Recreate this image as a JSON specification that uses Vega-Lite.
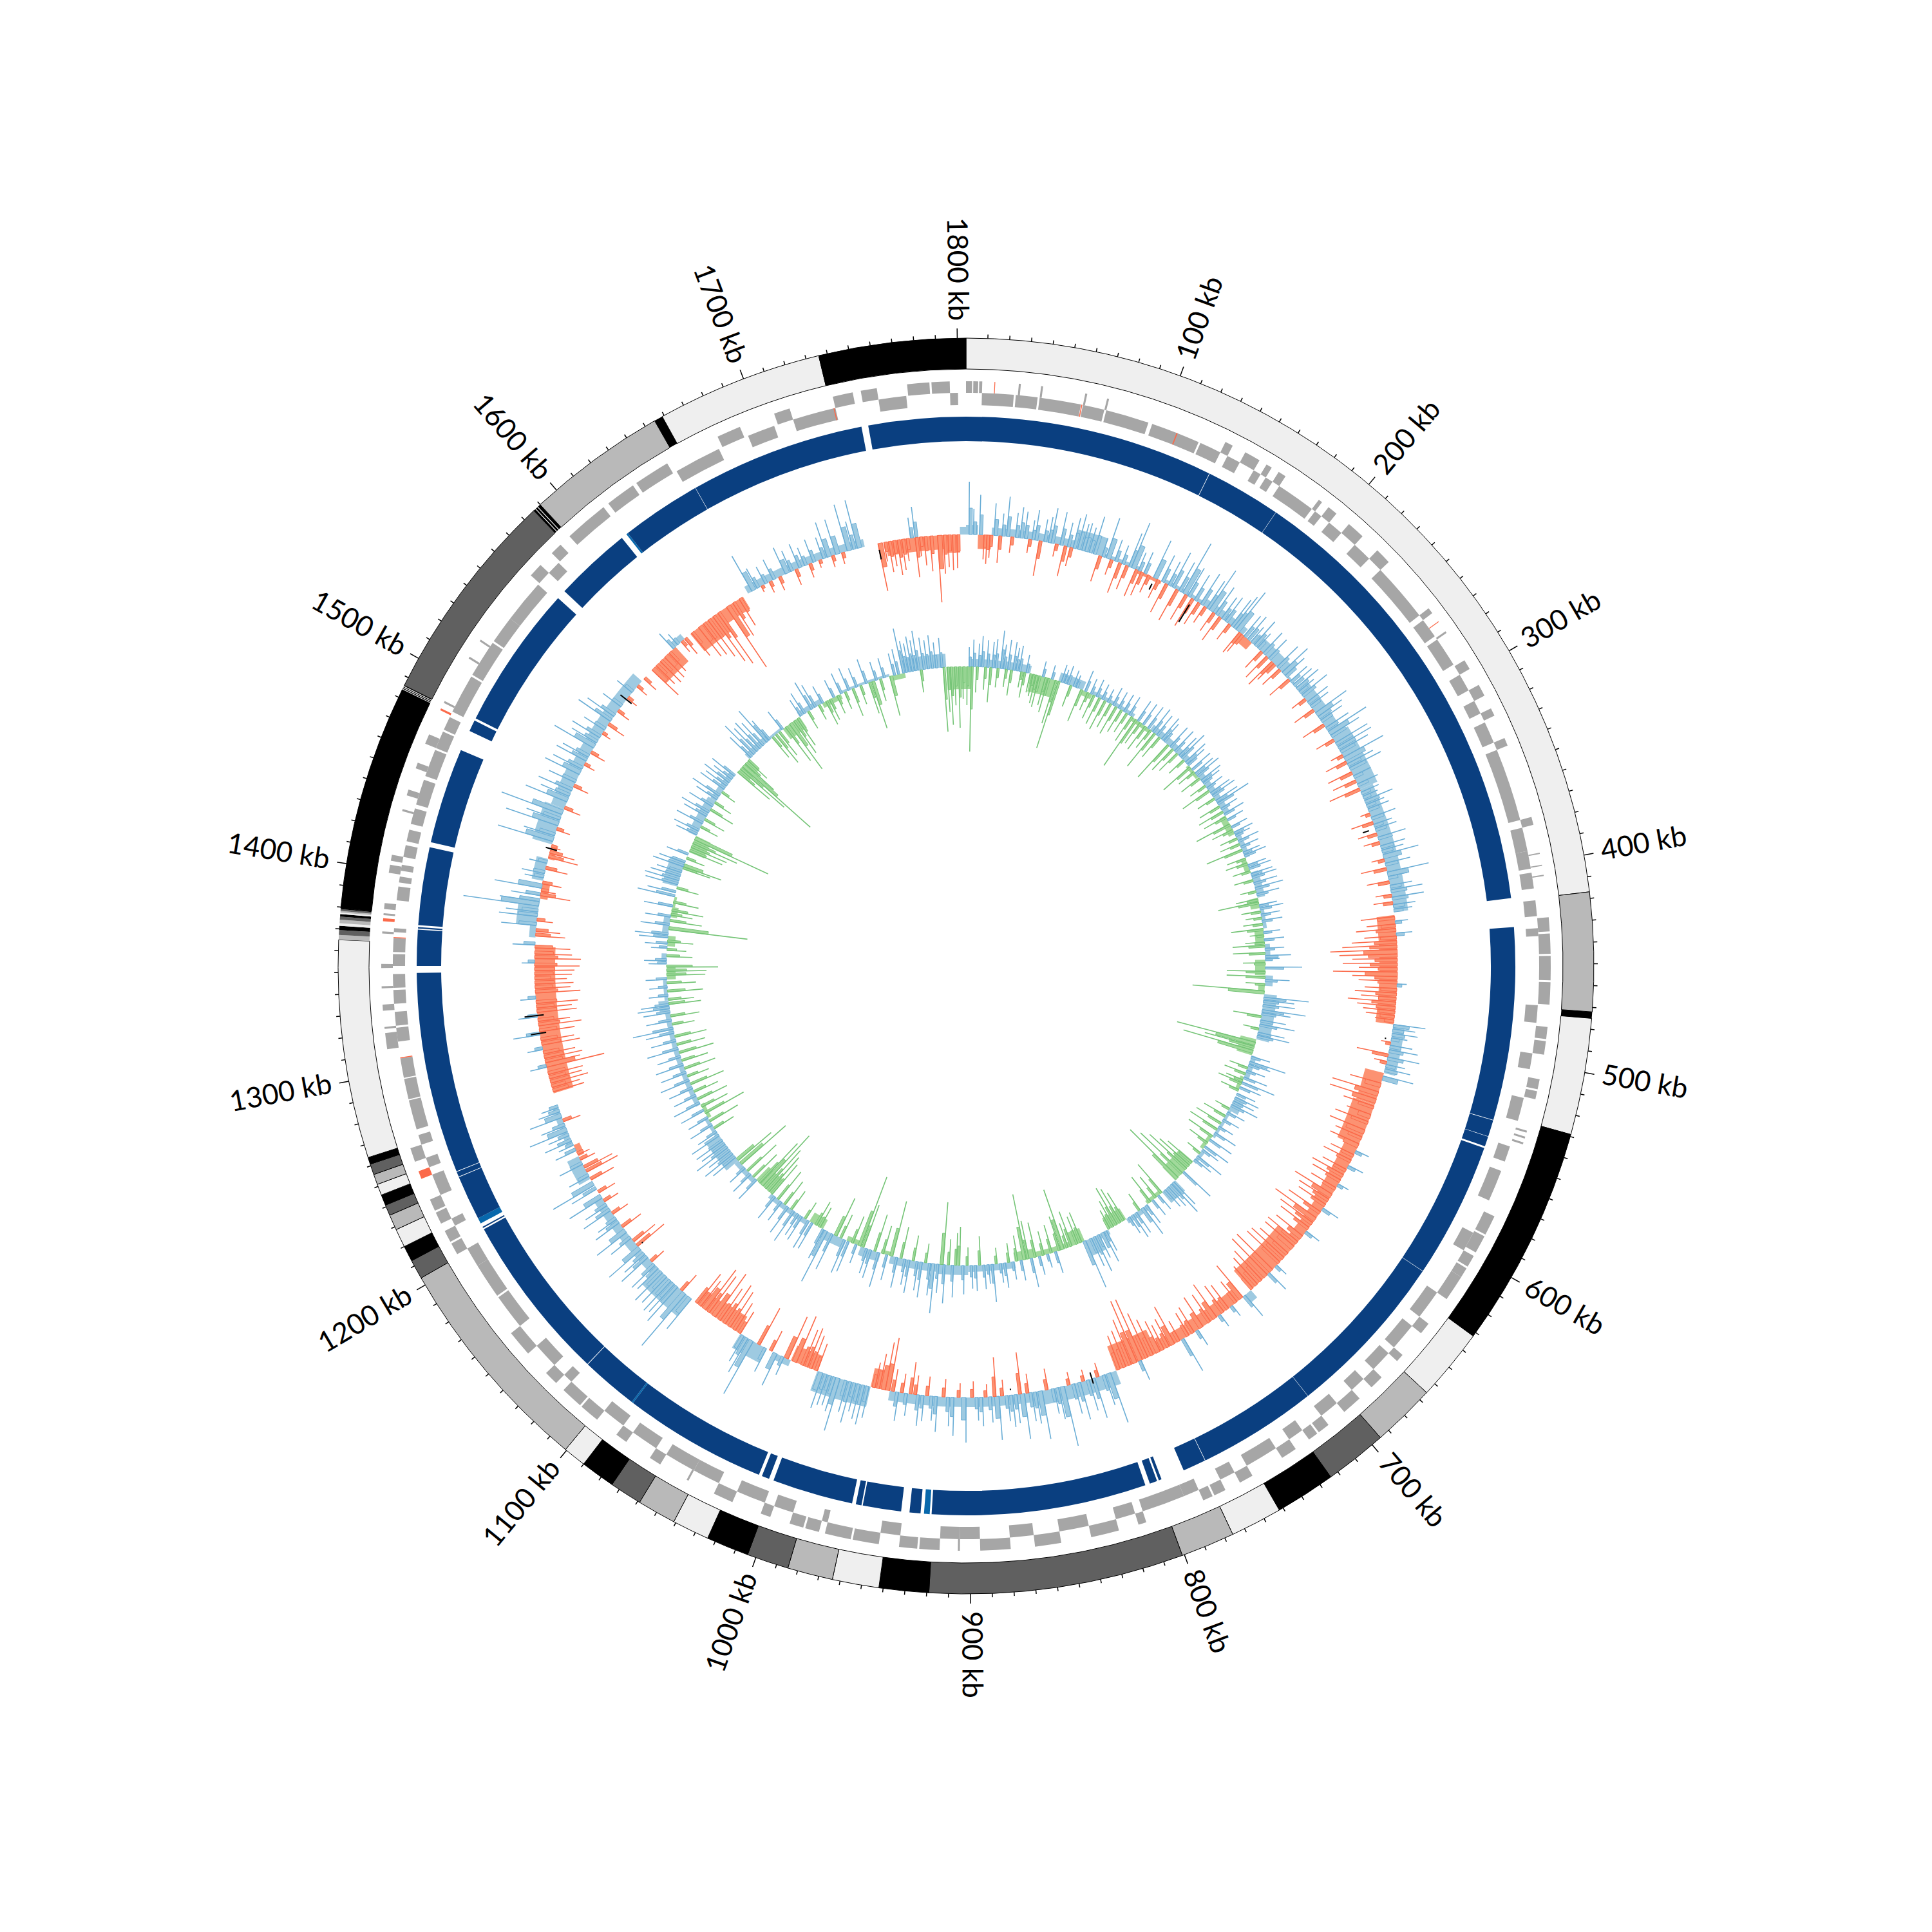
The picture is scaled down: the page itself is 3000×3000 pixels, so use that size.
{"$schema":"https://vega.github.io/schema/vega-lite/v6.json","width":3000,"height":3000,"padding":0,"autosize":{"type":"none"},"background":"white","config":{"view":{"stroke":null}},
"datasets":{
"outer":[{"s":0,"e":417,"c":"l"},{"s":417,"e":472,"c":"m"},{"s":475,"e":529,"c":"l"},{"s":529,"e":632,"c":"k"},{"s":632,"e":665.5,"c":"l"},{"s":665.5,"e":695,"c":"m"},{"s":695,"e":724,"c":"d"},{"s":724,"e":752,"c":"k"},{"s":752,"e":776,"c":"l"},{"s":776,"e":801,"c":"m"},{"s":801,"e":919,"c":"d"},{"s":919,"e":942,"c":"k"},{"s":942,"e":963.6,"c":"l"},{"s":963.6,"e":984.6,"c":"m"},{"s":984.6,"e":1004,"c":"d"},{"s":1004,"e":1023.8,"c":"k"},{"s":1023.8,"e":1041,"c":"l"},{"s":1041,"e":1059,"c":"m"},{"s":1059,"e":1074,"c":"d"},{"s":1074,"e":1090,"c":"k"},{"s":1090,"e":1100.6,"c":"l"},{"s":1100.6,"e":1203.7,"c":"m"},{"s":1203.7,"e":1212.7,"c":"d"},{"s":1212.7,"e":1220,"c":"k"},{"s":1220,"e":1228.6,"c":"l"},{"s":1228.6,"e":1235.8,"c":"m"},{"s":1235.8,"e":1240.8,"c":"d"},{"s":1240.8,"e":1245.8,"c":"k"},{"s":1245.8,"e":1251,"c":"l"},{"s":1251,"e":1255.8,"c":"m"},{"s":1255.8,"e":1260.8,"c":"d"},{"s":1260.8,"e":1264,"c":"k"},{"s":1264,"e":1365,"c":"l"},{"s":1379.5,"e":1484,"c":"k"},{"s":1486,"e":1586,"c":"d"},{"s":1590,"e":1655,"c":"m"},{"s":1659,"e":1736,"c":"l"},{"s":1736,"e":1804,"c":"k"}],
"stripes":[{"s":472,"e":475,"c":"k"},{"s":1365,"e":1367.2,"c":"m"},{"s":1367.2,"e":1369.4,"c":"d"},{"s":1369.4,"e":1371.4,"c":"k"},{"s":1371.4,"e":1372.6,"c":"l"},{"s":1372.6,"e":1374.2,"c":"m"},{"s":1374.2,"e":1375.6,"c":"d"},{"s":1375.6,"e":1376.8,"c":"k"},{"s":1376.8,"e":1377.5,"c":"l"},{"s":1377.5,"e":1378.2,"c":"m"},{"s":1378.2,"e":1379,"c":"d"},{"s":1379,"e":1379.5,"c":"k"},{"s":1484,"e":1484.3,"c":"l"},{"s":1484.3,"e":1484.7,"c":"k"},{"s":1484.7,"e":1485,"c":"l"},{"s":1485,"e":1485.4,"c":"k"},{"s":1485.4,"e":1485.7,"c":"l"},{"s":1485.7,"e":1486,"c":"k"},{"s":1586,"e":1587,"c":"k"},{"s":1587,"e":1587.3,"c":"l"},{"s":1587.3,"e":1588.3,"c":"k"},{"s":1588.3,"e":1588.6,"c":"l"},{"s":1588.6,"e":1590,"c":"k"},{"s":1655,"e":1659,"c":"k"}],
"blue":[{"s":0,"e":131.7,"c":"b"},{"s":132,"e":172,"c":"b"},{"s":172.2,"e":415.4,"c":"b"},{"s":430.6,"e":532.5,"c":"b"},{"s":532.8,"e":541.5,"c":"b"},{"s":541.7,"e":547,"c":"b"},{"s":548,"e":620,"c":"b"},{"s":620.2,"e":709,"c":"b"},{"s":709.2,"e":772.5,"c":"b"},{"s":772.8,"e":785,"c":"b"},{"s":797.5,"e":799,"c":"b"},{"s":800,"e":804,"c":"b"},{"s":806.5,"e":920,"c":"b"},{"s":921,"e":924,"c":"n"},{"s":925.8,"e":931.6,"c":"b"},{"s":936,"e":956.3,"c":"b"},{"s":957,"e":960,"c":"b"},{"s":962,"e":1004.8,"c":"b"},{"s":1007.3,"e":1011.3,"c":"b"},{"s":1013,"e":1089,"c":"b"},{"s":1089,"e":1089.8,"c":"n"},{"s":1089.8,"e":1120,"c":"b"},{"s":1120.3,"e":1209.5,"c":"b"},{"s":1210.3,"e":1211,"c":"b"},{"s":1213,"e":1216,"c":"n"},{"s":1216,"e":1239.7,"c":"b"},{"s":1240,"e":1242.7,"c":"b"},{"s":1243,"e":1349.4,"c":"b"},{"s":1353,"e":1372,"c":"b"},{"s":1372.6,"e":1373.4,"c":"b"},{"s":1374.4,"e":1415.6,"c":"b"},{"s":1418.3,"e":1469,"c":"b"},{"s":1480,"e":1486,"c":"b"},{"s":1487.3,"e":1563.7,"c":"b"},{"s":1568.6,"e":1609.6,"c":"b"},{"s":1612.6,"e":1613.6,"c":"n"},{"s":1613.6,"e":1656,"c":"b"},{"s":1656.2,"e":1749,"c":"b"},{"s":1752.6,"e":1804,"c":"b"}],
"geneO":[{"s":0,"e":3,"c":"g"},{"s":3.6,"e":6,"c":"g"},{"s":6.5,"e":8,"c":"g"},{"s":14,"e":14.4,"c":"r"},{"s":26,"e":27,"c":"g"},{"s":37,"e":38,"c":"g"},{"s":59,"e":60,"c":"g"},{"s":70,"e":71,"c":"g"},{"s":132,"e":136,"c":"g"},{"s":143,"e":151,"c":"g"},{"s":155,"e":158,"c":"g"},{"s":162,"e":166,"c":"g"},{"s":186,"e":188,"c":"g"},{"s":192,"e":197,"c":"g"},{"s":205,"e":214,"c":"g"},{"s":224,"e":232,"c":"g"},{"s":262,"e":265,"c":"g"},{"s":270,"e":270.4,"c":"r"},{"s":276,"e":277,"c":"g"},{"s":293,"e":298,"c":"g"},{"s":307,"e":313,"c":"g"},{"s":320,"e":324,"c":"g"},{"s":336,"e":340,"c":"g"},{"s":377,"e":381,"c":"g"},{"s":395,"e":395.6,"c":"g"},{"s":401,"e":401.6,"c":"g"},{"s":406,"e":406.6,"c":"g"},{"s":427,"e":434,"c":"g"},{"s":435,"e":445,"c":"g"},{"s":446,"e":458,"c":"g"},{"s":459,"e":470,"c":"g"},{"s":481,"e":487,"c":"g"},{"s":488,"e":494.7,"c":"g"},{"s":507,"e":512,"c":"g"},{"s":513,"e":517,"c":"g"},{"s":533,"e":534,"c":"g"},{"s":536,"e":537,"c":"g"},{"s":539,"e":540,"c":"g"},{"s":578,"e":588,"c":"g"},{"s":589,"e":598,"c":"g"},{"s":600,"e":606,"c":"g"},{"s":607,"e":612,"c":"g"},{"s":612,"e":625,"c":"g"},{"s":640,"e":646,"c":"g"},{"s":660,"e":664,"c":"g"},{"s":675,"e":682,"c":"g"},{"s":690,"e":700,"c":"g"},{"s":710,"e":716,"c":"g"},{"s":717,"e":722,"c":"g"},{"s":730,"e":738,"c":"g"},{"s":755,"e":762,"c":"g"},{"s":770,"e":776,"c":"g"},{"s":777,"e":782,"c":"g"},{"s":812,"e":816,"c":"g"},{"s":826,"e":840,"c":"g"},{"s":855,"e":868,"c":"g"},{"s":880,"e":895,"c":"g"},{"s":905,"e":906,"c":"g"},{"s":915,"e":925,"c":"g"},{"s":926,"e":935,"c":"g"},{"s":945,"e":958,"c":"g"},{"s":959,"e":972,"c":"g"},{"s":975,"e":982,"c":"g"},{"s":983,"e":990,"c":"g"},{"s":1000,"e":1005,"c":"g"},{"s":1020,"e":1030,"c":"g"},{"s":1044,"e":1045,"c":"g"},{"s":1060,"e":1066,"c":"g"},{"s":1080,"e":1086,"c":"g"},{"s":1098,"e":1108,"c":"g"},{"s":1109,"e":1120,"c":"g"},{"s":1125,"e":1132,"c":"g"},{"s":1145,"e":1158,"c":"g"},{"s":1205,"e":1211,"c":"g"},{"s":1212,"e":1218,"c":"g"},{"s":1222,"e":1228,"c":"g"},{"s":1229,"e":1235,"c":"g"},{"s":1246,"e":1250,"c":"r"},{"s":1255,"e":1262,"c":"g"},{"s":1312,"e":1320,"c":"g"},{"s":1322,"e":1323,"c":"g"},{"s":1331,"e":1334,"c":"g"},{"s":1342,"e":1343,"c":"g"},{"s":1352,"e":1354,"c":"g"},{"s":1369,"e":1370,"c":"g"},{"s":1375,"e":1376.5,"c":"r"},{"s":1378,"e":1379,"c":"g"},{"s":1381,"e":1384,"c":"g"},{"s":1399,"e":1403,"c":"g"},{"s":1405,"e":1408,"c":"g"},{"s":1430,"e":1431,"c":"g"},{"s":1438,"e":1441,"c":"g"},{"s":1452,"e":1455,"c":"g"},{"s":1465,"e":1470,"c":"g"},{"s":1483,"e":1484,"c":"r"},{"s":1487,"e":1488,"c":"g"},{"s":1512,"e":1513,"c":"g"},{"s":1522,"e":1523,"c":"g"},{"s":1563,"e":1570,"c":"g"},{"s":1578,"e":1584,"c":"g"},{"s":1590,"e":1612,"c":"g"},{"s":1615,"e":1630,"c":"g"},{"s":1632,"e":1650,"c":"g"},{"s":1678,"e":1690,"c":"g"},{"s":1708,"e":1716,"c":"g"},{"s":1738,"e":1748,"c":"g"},{"s":1752,"e":1760,"c":"g"},{"s":1775,"e":1786,"c":"g"},{"s":1787,"e":1796,"c":"g"}],
"geneI":[{"s":8,"e":24,"c":"g"},{"s":25,"e":36,"c":"g"},{"s":37,"e":58,"c":"g"},{"s":58.2,"e":58.7,"c":"r"},{"s":59,"e":70,"c":"g"},{"s":71,"e":93,"c":"g"},{"s":95,"e":120,"c":"g"},{"s":108,"e":108.6,"c":"r"},{"s":121,"e":132,"c":"g"},{"s":136,"e":143,"c":"g"},{"s":151,"e":155,"c":"g"},{"s":158,"e":162,"c":"g"},{"s":166,"e":186,"c":"g"},{"s":188,"e":192,"c":"g"},{"s":197,"e":205,"c":"g"},{"s":214,"e":224,"c":"g"},{"s":232,"e":262,"c":"g"},{"s":265,"e":275,"c":"g"},{"s":277,"e":292,"c":"g"},{"s":298,"e":307,"c":"g"},{"s":313,"e":320,"c":"g"},{"s":325,"e":336,"c":"g"},{"s":340,"e":377,"c":"g"},{"s":381,"e":393,"c":"g"},{"s":393,"e":402,"c":"g"},{"s":404,"e":412,"c":"g"},{"s":418,"e":426,"c":"g"},{"s":432,"e":436,"c":"g"},{"s":470.7,"e":479.5,"c":"g"},{"s":495,"e":503,"c":"g"},{"s":517.7,"e":529.6,"c":"g"},{"s":543,"e":551,"c":"g"},{"s":556,"e":572,"c":"g"},{"s":590,"e":600,"c":"g"},{"s":625,"e":640,"c":"g"},{"s":646,"e":660,"c":"g"},{"s":664,"e":675,"c":"g"},{"s":682,"e":690,"c":"g"},{"s":700,"e":710,"c":"g"},{"s":722,"e":730,"c":"g"},{"s":738,"e":755,"c":"g"},{"s":762,"e":770,"c":"g"},{"s":782,"e":790,"c":"g"},{"s":790,"e":812,"c":"g"},{"s":816,"e":826,"c":"g"},{"s":840,"e":855,"c":"g"},{"s":868,"e":880,"c":"g"},{"s":895,"e":905,"c":"g"},{"s":905,"e":915,"c":"g"},{"s":935,"e":945,"c":"g"},{"s":972,"e":975,"c":"g"},{"s":990,"e":1000,"c":"g"},{"s":1005,"e":1020,"c":"g"},{"s":1030,"e":1044,"c":"g"},{"s":1044,"e":1060,"c":"g"},{"s":1066,"e":1080,"c":"g"},{"s":1086,"e":1098,"c":"g"},{"s":1120,"e":1125,"c":"g"},{"s":1132,"e":1145,"c":"g"},{"s":1158,"e":1176,"c":"g"},{"s":1177,"e":1195,"c":"g"},{"s":1195,"e":1205,"c":"g"},{"s":1218,"e":1222,"c":"g"},{"s":1235,"e":1246,"c":"g"},{"s":1250,"e":1255,"c":"g"},{"s":1262,"e":1267,"c":"g"},{"s":1270,"e":1285,"c":"g"},{"s":1285.6,"e":1296,"c":"g"},{"s":1296.6,"e":1306.5,"c":"g"},{"s":1306.5,"e":1307,"c":"r"},{"s":1315,"e":1322,"c":"g"},{"s":1323,"e":1330,"c":"g"},{"s":1334,"e":1341,"c":"g"},{"s":1342,"e":1349,"c":"g"},{"s":1353,"e":1359,"c":"g"},{"s":1360,"e":1367,"c":"g"},{"s":1367,"e":1367.5,"c":"r"},{"s":1370,"e":1372,"c":"g"},{"s":1386,"e":1393,"c":"g"},{"s":1395,"e":1398,"c":"g"},{"s":1401,"e":1404,"c":"g"},{"s":1408,"e":1414,"c":"g"},{"s":1416,"e":1422,"c":"g"},{"s":1425,"e":1433,"c":"g"},{"s":1435,"e":1448,"c":"g"},{"s":1450,"e":1464,"c":"g"},{"s":1465,"e":1474,"c":"g"},{"s":1475,"e":1482,"c":"g"},{"s":1485,"e":1505,"c":"g"},{"s":1506,"e":1525,"c":"g"},{"s":1526,"e":1540,"c":"g"},{"s":1540,"e":1562,"c":"g"},{"s":1570,"e":1577,"c":"g"},{"s":1652,"e":1676,"c":"g"},{"s":1692,"e":1706,"c":"g"},{"s":1716,"e":1738,"c":"g"},{"s":1737,"e":1737.5,"c":"r"},{"s":1760,"e":1774,"c":"g"},{"s":1796,"e":1800,"c":"g"}],
"bandA":[{"s":0,"e":8,"v":15},{"s":8,"e":17,"v":-22},{"s":17,"e":72,"v":12},{"s":72,"e":92,"v":30},{"s":92,"e":118,"v":6},{"s":118,"e":135,"v":-5},{"s":135,"e":165,"v":6},{"s":165,"e":200,"v":12},{"s":200,"e":208,"v":-14},{"s":208,"e":240,"v":18},{"s":240,"e":250,"v":4},{"s":250,"e":290,"v":20},{"s":290,"e":330,"v":30},{"s":330,"e":415,"v":22},{"s":417,"e":490,"v":-28},{"s":490,"e":523,"v":18},{"s":523,"e":545,"v":-30},{"s":545,"e":575,"v":-35},{"s":575,"e":620,"v":-22},{"s":620,"e":650,"v":-18},{"s":650,"e":695,"v":-40},{"s":695,"e":702,"v":15},{"s":702,"e":745,"v":-20},{"s":745,"e":770,"v":-18},{"s":770,"e":800,"v":-40},{"s":800,"e":860,"v":22},{"s":860,"e":953,"v":15},{"s":953,"e":966,"v":-30},{"s":966,"e":1003,"v":32},{"s":1003,"e":1022,"v":-25},{"s":1022,"e":1033,"v":10},{"s":1040,"e":1060,"v":25},{"s":1062,"e":1082,"v":-28},{"s":1082,"e":1096,"v":-25},{"s":1100,"e":1130,"v":35},{"s":1130,"e":1190,"v":14},{"s":1205,"e":1222,"v":20},{"s":1222,"e":1230,"v":-10},{"s":1230,"e":1259,"v":10},{"s":1267,"e":1366,"v":-32},{"s":1372,"e":1380,"v":10},{"s":1380,"e":1398,"v":32},{"s":1398,"e":1410,"v":-12},{"s":1410,"e":1425,"v":18},{"s":1425,"e":1435,"v":-10},{"s":1435,"e":1460,"v":32},{"s":1460,"e":1490,"v":22},{"s":1490,"e":1560,"v":18},{"s":1570,"e":1592,"v":-30},{"s":1592,"e":1600,"v":10},{"s":1605,"e":1630,"v":-35},{"s":1630,"e":1648,"v":-22},{"s":1652,"e":1736,"v":12},{"s":1750,"e":1790,"v":-22},{"s":1790,"e":1800,"v":-28},{"s":1800,"e":1804,"v":12}],
"bandB":[{"s":0,"e":5,"v":-35},{"s":5,"e":62,"v":12},{"s":63,"e":88,"v":-28},{"s":90,"e":115,"v":14},{"s":115,"e":125,"v":-8},{"s":125,"e":170,"v":6},{"s":170,"e":190,"v":-6},{"s":190,"e":240,"v":10},{"s":240,"e":255,"v":-5},{"s":255,"e":300,"v":10},{"s":300,"e":320,"v":-10},{"s":320,"e":345,"v":8},{"s":345,"e":360,"v":-8},{"s":360,"e":385,"v":12},{"s":385,"e":395,"v":-14},{"s":395,"e":415,"v":6},{"s":415,"e":430,"v":-14},{"s":430,"e":445,"v":8},{"s":445,"e":460,"v":-16},{"s":460,"e":470,"v":12},{"s":470,"e":478,"v":-10},{"s":478,"e":522,"v":20},{"s":522,"e":538,"v":-25},{"s":538,"e":560,"v":8},{"s":560,"e":575,"v":-6},{"s":580,"e":595,"v":16},{"s":595,"e":625,"v":5},{"s":625,"e":640,"v":-6},{"s":640,"e":655,"v":6},{"s":655,"e":680,"v":-28},{"s":680,"e":697,"v":22},{"s":697,"e":715,"v":-6},{"s":715,"e":740,"v":8},{"s":740,"e":760,"v":-20},{"s":760,"e":770,"v":8},{"s":770,"e":785,"v":26},{"s":785,"e":800,"v":-22},{"s":800,"e":835,"v":-8},{"s":835,"e":855,"v":-14},{"s":855,"e":900,"v":10},{"s":900,"e":930,"v":15},{"s":930,"e":975,"v":12},{"s":975,"e":985,"v":-6},{"s":985,"e":1005,"v":14},{"s":1005,"e":1020,"v":-8},{"s":1020,"e":1045,"v":14},{"s":1045,"e":1060,"v":-16},{"s":1060,"e":1105,"v":8},{"s":1105,"e":1125,"v":-28},{"s":1125,"e":1150,"v":8},{"s":1150,"e":1180,"v":24},{"s":1180,"e":1200,"v":6},{"s":1200,"e":1215,"v":-6},{"s":1215,"e":1310,"v":8},{"s":1310,"e":1320,"v":16},{"s":1320,"e":1340,"v":6},{"s":1340,"e":1353,"v":-14},{"s":1355,"e":1365,"v":8},{"s":1372,"e":1382,"v":-12},{"s":1382,"e":1400,"v":10},{"s":1400,"e":1410,"v":-10},{"s":1410,"e":1420,"v":-4},{"s":1430,"e":1455,"v":24},{"s":1465,"e":1482,"v":-25},{"s":1482,"e":1520,"v":14},{"s":1520,"e":1550,"v":10},{"s":1555,"e":1572,"v":-22},{"s":1572,"e":1600,"v":10},{"s":1600,"e":1615,"v":4},{"s":1615,"e":1635,"v":-20},{"s":1635,"e":1660,"v":8},{"s":1660,"e":1680,"v":-8},{"s":1680,"e":1730,"v":4},{"s":1730,"e":1745,"v":-8},{"s":1745,"e":1785,"v":21},{"s":1785,"e":1804,"v":-35}],
"a":[{"s":2,"e":4,"v":82},{"s":5,"e":7,"v":40},{"s":9,"e":11,"v":62},{"s":12,"e":14,"v":-38},{"s":14,"e":16,"v":-45},{"s":16,"e":18,"v":-35},{"s":18.7,"e":21,"v":50},{"s":22,"e":24,"v":-42},{"s":24,"e":26,"v":35},{"s":27,"e":29,"v":62},{"s":30,"e":32,"v":-25},{"s":33,"e":35,"v":38},{"s":36,"e":38,"v":48},{"s":39,"e":41,"v":42},{"s":42,"e":44,"v":-22},{"s":44,"e":46,"v":30},{"s":46,"e":48,"v":47},{"s":49,"e":51,"v":-55},{"s":52,"e":54,"v":35},{"s":55,"e":57,"v":40},{"s":57,"e":59,"v":55},{"s":60,"e":62,"v":-20},{"s":63,"e":65,"v":52},{"s":66,"e":68,"v":-48},{"s":68,"e":70,"v":38},{"s":70,"e":72,"v":-30},{"s":72,"e":74,"v":48},{"s":75,"e":77,"v":56},{"s":78,"e":80,"v":42},{"s":80,"e":82,"v":45},{"s":83,"e":85,"v":40},{"s":86,"e":88,"v":60},{"s":90,"e":92,"v":-42},{"s":92,"e":94,"v":30},{"s":95,"e":98,"v":65},{"s":98,"e":100,"v":-25},{"s":101,"e":103,"v":35},{"s":104,"e":106,"v":-50},{"s":106,"e":108,"v":30},{"s":109,"e":111,"v":-40},{"s":111,"e":113,"v":55},{"s":113,"e":116,"v":75},{"s":116,"e":118,"v":-45},{"s":118,"e":120,"v":30},{"s":120,"e":122,"v":-40},{"s":122,"e":124,"v":35},{"s":125,"e":127,"v":-30},{"s":129,"e":132,"v":63},{"s":132,"e":134,"v":-32},{"s":135,"e":137,"v":45},{"s":138,"e":140,"v":-50},{"s":140,"e":142,"v":40},{"s":143,"e":145,"v":60},{"s":146,"e":148,"v":-55},{"s":148,"e":150,"v":50},{"s":151,"e":154,"v":88},{"s":153,"e":155,"v":-45},{"s":155,"e":157,"v":50},{"s":158,"e":160,"v":-50},{"s":160,"e":162,"v":45},{"s":163,"e":165,"v":-40},{"s":165,"e":167,"v":55},{"s":168,"e":170,"v":-30},{"s":170,"e":172,"v":50},{"s":172,"e":175,"v":73},{"s":175,"e":177,"v":-35},{"s":177,"e":179,"v":50},{"s":180,"e":182,"v":-45},{"s":182,"e":184,"v":40},{"s":185,"e":187,"v":45},{"s":188,"e":190,"v":-30},{"s":190,"e":192,"v":50},{"s":192,"e":194,"v":60},{"s":194,"e":197,"v":73},{"s":197,"e":199,"v":-40},{"s":199,"e":201,"v":-35},{"s":201,"e":203,"v":40},{"s":204,"e":206,"v":45},{"s":207,"e":209,"v":30},{"s":210,"e":212,"v":48},{"s":213,"e":215,"v":30},{"s":216,"e":218,"v":-35},{"s":218,"e":220,"v":43},{"s":221,"e":223,"v":-45},{"s":223,"e":225,"v":40},{"s":226,"e":228,"v":-50},{"s":228,"e":230,"v":-35},{"s":231,"e":233,"v":45},{"s":233,"e":235,"v":-35},{"s":236,"e":239,"v":54},{"s":239,"e":241,"v":40},{"s":242,"e":244,"v":-38},{"s":244,"e":246,"v":35},{"s":247,"e":249,"v":38},{"s":250,"e":252,"v":45},{"s":253,"e":255,"v":30},{"s":256,"e":258,"v":50},{"s":259,"e":261,"v":-25},{"s":262,"e":264,"v":40},{"s":265,"e":267,"v":35},{"s":268,"e":270,"v":-35},{"s":271,"e":274,"v":59},{"s":274,"e":276,"v":45},{"s":277,"e":279,"v":40},{"s":280,"e":282,"v":-38},{"s":283,"e":285,"v":42},{"s":286,"e":289,"v":70},{"s":289,"e":291,"v":52},{"s":292,"e":294,"v":-30},{"s":295,"e":297,"v":58},{"s":298,"e":300,"v":60},{"s":301,"e":303,"v":50},{"s":304,"e":306,"v":-20},{"s":306,"e":309,"v":70},{"s":309,"e":311,"v":-35},{"s":311,"e":313,"v":45},{"s":314,"e":316,"v":55},{"s":317,"e":319,"v":-40},{"s":320,"e":322,"v":30},{"s":323,"e":325,"v":-38},{"s":326,"e":328,"v":35},{"s":329,"e":331,"v":-50},{"s":332,"e":334,"v":30},{"s":335,"e":337,"v":25},{"s":338,"e":340,"v":47},{"s":341,"e":343,"v":30},{"s":344,"e":346,"v":35},{"s":347,"e":349,"v":-15},{"s":350,"e":352,"v":40},{"s":353,"e":355,"v":-35},{"s":355,"e":357,"v":30},{"s":358,"e":360,"v":35},{"s":361,"e":363,"v":-30},{"s":364,"e":366,"v":45},{"s":367,"e":369,"v":-25},{"s":370,"e":372,"v":40},{"s":373,"e":375,"v":35},{"s":376,"e":379,"v":57},{"s":379,"e":381,"v":-20},{"s":382,"e":384,"v":40},{"s":385,"e":387,"v":-40},{"s":388,"e":391,"v":66},{"s":391,"e":393,"v":30},{"s":394,"e":396,"v":-35},{"s":397,"e":399,"v":35},{"s":400,"e":402,"v":50},{"s":403,"e":405,"v":-25},{"s":405,"e":407,"v":50},{"s":408,"e":410,"v":-30},{"s":410,"e":412,"v":35},{"s":413,"e":415,"v":29},{"s":418,"e":420,"v":-53},{"s":421,"e":423,"v":20},{"s":423,"e":425,"v":-45},{"s":426,"e":428,"v":-62},{"s":429,"e":431,"v":25},{"s":431,"e":433,"v":-50},{"s":434,"e":436,"v":-70},{"s":437,"e":439,"v":-85},{"s":440,"e":443,"v":-104},{"s":443,"e":445,"v":-90},{"s":446,"e":448,"v":-70},{"s":449,"e":451,"v":-85},{"s":452,"e":454,"v":-60},{"s":455,"e":458,"v":-100},{"s":458,"e":460,"v":-70},{"s":461,"e":463,"v":-60},{"s":463,"e":465,"v":15},{"s":466,"e":468,"v":-50},{"s":469,"e":471,"v":-65},{"s":472,"e":474,"v":-55},{"s":475,"e":477,"v":-75},{"s":478,"e":480,"v":-60},{"s":481,"e":483,"v":-50},{"s":484,"e":486,"v":-45},{"s":487,"e":489,"v":-30},{"s":490,"e":492,"v":50},{"s":493,"e":495,"v":35},{"s":496,"e":498,"v":40},{"s":499,"e":501,"v":25},{"s":502,"e":504,"v":-15},{"s":504,"e":506,"v":35},{"s":507,"e":509,"v":45},{"s":510,"e":512,"v":-50},{"s":512,"e":514,"v":50},{"s":515,"e":517,"v":-20},{"s":517,"e":519,"v":30},{"s":520,"e":522,"v":40},{"s":525,"e":528,"v":48},{"s":530,"e":533,"v":-50},{"s":536,"e":539,"v":-75},{"s":541,"e":544,"v":-76},{"s":546,"e":548,"v":-50},{"s":552,"e":555,"v":-40},{"s":557,"e":559,"v":-55},{"s":563,"e":566,"v":-59},{"s":568,"e":570,"v":-45},{"s":573,"e":576,"v":-49},{"s":578,"e":580,"v":22},{"s":581,"e":583,"v":-40},{"s":585,"e":587,"v":-48},{"s":589,"e":591,"v":25},{"s":592,"e":594,"v":-42},{"s":596,"e":598,"v":-55},{"s":600,"e":602,"v":-50},{"s":603,"e":605,"v":18},{"s":606,"e":608,"v":-45},{"s":611,"e":614,"v":-68},{"s":615,"e":617,"v":-55},{"s":619,"e":621,"v":-50},{"s":622,"e":624,"v":28},{"s":625,"e":627,"v":-60},{"s":630,"e":633,"v":-78},{"s":634,"e":636,"v":-62},{"s":638,"e":640,"v":-55},{"s":641,"e":643,"v":25},{"s":645,"e":648,"v":-52},{"s":650,"e":652,"v":-60},{"s":654,"e":657,"v":-59},{"s":660,"e":662,"v":-58},{"s":664,"e":666,"v":-68},{"s":668,"e":670,"v":-70},{"s":671,"e":673,"v":20},{"s":675,"e":678,"v":-78},{"s":678,"e":680,"v":36},{"s":680,"e":683,"v":-78},{"s":685,"e":687,"v":-62},{"s":689,"e":691,"v":-55},{"s":693,"e":695,"v":-45},{"s":700,"e":702,"v":42},{"s":702,"e":705,"v":-63},{"s":707,"e":709,"v":-40},{"s":711,"e":713,"v":20},{"s":714,"e":716,"v":-45},{"s":718,"e":720,"v":-50},{"s":721,"e":723,"v":22},{"s":724,"e":727,"v":-62},{"s":729,"e":731,"v":-50},{"s":735,"e":738,"v":-54},{"s":739,"e":741,"v":28},{"s":742,"e":744,"v":-45},{"s":746,"e":748,"v":-40},{"s":750,"e":752,"v":58},{"s":753,"e":755,"v":-35},{"s":757,"e":760,"v":-65},{"s":761,"e":763,"v":-48},{"s":765,"e":767,"v":-42},{"s":768,"e":771,"v":-52},{"s":773,"e":775,"v":-60},{"s":777,"e":779,"v":-75},{"s":781,"e":784,"v":-102},{"s":782,"e":784,"v":33},{"s":785,"e":788,"v":-103},{"s":789,"e":791,"v":-75},{"s":793,"e":795,"v":-60},{"s":797,"e":799,"v":-55},{"s":804,"e":807,"v":82},{"s":808,"e":810,"v":50},{"s":812,"e":814,"v":-22},{"s":815,"e":817,"v":65},{"s":819,"e":821,"v":50},{"s":822,"e":824,"v":-18},{"s":825,"e":827,"v":60},{"s":829,"e":831,"v":48},{"s":832,"e":834,"v":-20},{"s":836,"e":839,"v":95},{"s":840,"e":842,"v":50},{"s":843,"e":845,"v":40},{"s":847,"e":849,"v":-33},{"s":851,"e":854,"v":76},{"s":855,"e":857,"v":50},{"s":858,"e":860,"v":45},{"s":860,"e":862,"v":-30},{"s":863,"e":866,"v":71},{"s":865,"e":867,"v":-65},{"s":868,"e":870,"v":45},{"s":871,"e":873,"v":50},{"s":874,"e":876,"v":40},{"s":877,"e":879,"v":-25},{"s":880,"e":883,"v":68},{"s":882,"e":884,"v":-61},{"s":885,"e":887,"v":40},{"s":888,"e":890,"v":-20},{"s":891,"e":893,"v":45},{"s":894,"e":896,"v":36},{"s":897,"e":899,"v":-25},{"s":902,"e":905,"v":70},{"s":906,"e":908,"v":-22},{"s":910,"e":912,"v":60},{"s":913,"e":915,"v":45},{"s":916,"e":918,"v":-28},{"s":921,"e":923,"v":55},{"s":924,"e":926,"v":38},{"s":927,"e":929,"v":-30},{"s":930,"e":932,"v":40},{"s":933,"e":935,"v":48},{"s":935,"e":937,"v":-30},{"s":938,"e":940,"v":-50},{"s":941,"e":943,"v":35},{"s":944,"e":946,"v":-30},{"s":947,"e":949,"v":45},{"s":950,"e":952,"v":-35},{"s":953,"e":956,"v":-83},{"s":956,"e":959,"v":-75},{"s":960,"e":962,"v":-55},{"s":963,"e":965,"v":-40},{"s":967,"e":969,"v":50},{"s":970,"e":972,"v":62},{"s":973,"e":975,"v":55},{"s":976,"e":978,"v":45},{"s":979,"e":981,"v":65},{"s":982,"e":984,"v":50},{"s":987,"e":990,"v":84},{"s":990,"e":992,"v":55},{"s":993,"e":995,"v":48},{"s":996,"e":998,"v":50},{"s":999,"e":1002,"v":57},{"s":1003,"e":1005,"v":-45},{"s":1007,"e":1009,"v":-55},{"s":1010,"e":1012,"v":-65},{"s":1013,"e":1015,"v":-60},{"s":1018,"e":1021,"v":-78},{"s":1024,"e":1027,"v":-72},{"s":1027,"e":1029,"v":30},{"s":1032,"e":1035,"v":54},{"s":1036,"e":1038,"v":-35},{"s":1040,"e":1042,"v":40},{"s":1045,"e":1047,"v":-65},{"s":1050,"e":1053,"v":93},{"s":1054,"e":1056,"v":60},{"s":1057,"e":1059,"v":45},{"s":1060,"e":1062,"v":-40},{"s":1064,"e":1066,"v":-50},{"s":1068,"e":1070,"v":-65},{"s":1072,"e":1074,"v":-72},{"s":1076,"e":1078,"v":-60},{"s":1080,"e":1083,"v":-82},{"s":1085,"e":1087,"v":-70},{"s":1088,"e":1091,"v":-78},{"s":1092,"e":1094,"v":-50},{"s":1095,"e":1097,"v":-58},{"s":1100,"e":1103,"v":60},{"s":1105,"e":1108,"v":105},{"s":1108,"e":1110,"v":-33},{"s":1112,"e":1114,"v":70},{"s":1115,"e":1117,"v":58},{"s":1118,"e":1120,"v":62},{"s":1122,"e":1124,"v":55},{"s":1126,"e":1128,"v":60},{"s":1130,"e":1132,"v":45},{"s":1133,"e":1135,"v":50},{"s":1136,"e":1138,"v":-25},{"s":1140,"e":1142,"v":55},{"s":1143,"e":1145,"v":42},{"s":1147,"e":1150,"v":65},{"s":1150,"e":1152,"v":-53},{"s":1154,"e":1156,"v":-42},{"s":1157,"e":1159,"v":40},{"s":1162,"e":1165,"v":58},{"s":1166,"e":1168,"v":-35},{"s":1170,"e":1172,"v":45},{"s":1173,"e":1175,"v":35},{"s":1177,"e":1179,"v":-28},{"s":1180,"e":1182,"v":50},{"s":1184,"e":1186,"v":40},{"s":1187,"e":1189,"v":-25},{"s":1190,"e":1193,"v":60},{"s":1194,"e":1196,"v":-29},{"s":1197,"e":1199,"v":45},{"s":1200,"e":1203,"v":74},{"s":1204,"e":1206,"v":-40},{"s":1207,"e":1209,"v":35},{"s":1210,"e":1212,"v":-54},{"s":1213,"e":1215,"v":-48},{"s":1216,"e":1218,"v":40},{"s":1219,"e":1221,"v":-25},{"s":1223,"e":1225,"v":-20},{"s":1226,"e":1228,"v":35},{"s":1230,"e":1232,"v":25},{"s":1233,"e":1235,"v":45},{"s":1237,"e":1239,"v":35},{"s":1240,"e":1243,"v":63},{"s":1244,"e":1246,"v":40},{"s":1247,"e":1249,"v":-28},{"s":1250,"e":1253,"v":53},{"s":1254,"e":1256,"v":35},{"s":1257,"e":1259,"v":28},{"s":1268,"e":1270,"v":-50},{"s":1271,"e":1273,"v":-45},{"s":1274,"e":1276,"v":-60},{"s":1277,"e":1279,"v":-52},{"s":1280,"e":1282,"v":-55},{"s":1285,"e":1288,"v":-92},{"s":1285,"e":1287,"v":26},{"s":1288,"e":1290,"v":-55},{"s":1291,"e":1293,"v":-60},{"s":1294,"e":1296,"v":-50},{"s":1297,"e":1299,"v":24},{"s":1300,"e":1302,"v":-60},{"s":1303,"e":1305,"v":-52},{"s":1307,"e":1309,"v":42},{"s":1309,"e":1311,"v":-55},{"s":1313,"e":1315,"v":-67},{"s":1316,"e":1318,"v":-50},{"s":1319,"e":1321,"v":30},{"s":1322,"e":1324,"v":-62},{"s":1325,"e":1327,"v":-55},{"s":1328,"e":1330,"v":-65},{"s":1331,"e":1333,"v":24},{"s":1335,"e":1337,"v":-70},{"s":1338,"e":1340,"v":-55},{"s":1341,"e":1343,"v":-60},{"s":1344,"e":1346,"v":-50},{"s":1347,"e":1349,"v":-58},{"s":1350,"e":1352,"v":-62},{"s":1353,"e":1355,"v":-70},{"s":1355,"e":1357,"v":20},{"s":1358,"e":1360,"v":-72},{"s":1361,"e":1363,"v":-58},{"s":1365,"e":1367,"v":-55},{"s":1367,"e":1369,"v":35},{"s":1373,"e":1375,"v":-46},{"s":1376,"e":1378,"v":-38},{"s":1380,"e":1382,"v":55},{"s":1383,"e":1385,"v":-25},{"s":1386,"e":1388,"v":60},{"s":1389,"e":1391,"v":50},{"s":1393,"e":1396,"v":118},{"s":1396,"e":1398,"v":62},{"s":1400,"e":1402,"v":46},{"s":1400,"e":1402,"v":-47},{"s":1403,"e":1405,"v":-23},{"s":1405,"e":1408,"v":74},{"s":1408,"e":1410,"v":-30},{"s":1412,"e":1414,"v":30},{"s":1415,"e":1417,"v":36},{"s":1418,"e":1420,"v":-35},{"s":1422,"e":1424,"v":28},{"s":1426,"e":1428,"v":-47},{"s":1429,"e":1431,"v":-40},{"s":1433,"e":1435,"v":-15},{"s":1437,"e":1440,"v":89},{"s":1441,"e":1443,"v":50},{"s":1445,"e":1447,"v":-22},{"s":1448,"e":1451,"v":85},{"s":1452,"e":1454,"v":55},{"s":1456,"e":1459,"v":100},{"s":1460,"e":1462,"v":-27},{"s":1465,"e":1468,"v":69},{"s":1469,"e":1471,"v":48},{"s":1473,"e":1475,"v":56},{"s":1476,"e":1478,"v":-25},{"s":1479,"e":1481,"v":45},{"s":1485,"e":1488,"v":59},{"s":1489,"e":1491,"v":50},{"s":1492,"e":1494,"v":-18},{"s":1495,"e":1497,"v":52},{"s":1498,"e":1500,"v":45},{"s":1501,"e":1503,"v":-25},{"s":1505,"e":1508,"v":70},{"s":1509,"e":1511,"v":45},{"s":1513,"e":1515,"v":50},{"s":1516,"e":1518,"v":-15},{"s":1519,"e":1521,"v":38},{"s":1523,"e":1525,"v":-30},{"s":1526,"e":1528,"v":60},{"s":1530,"e":1532,"v":50},{"s":1534,"e":1536,"v":-22},{"s":1538,"e":1540,"v":35},{"s":1545,"e":1547,"v":-18},{"s":1550,"e":1552,"v":30},{"s":1555,"e":1557,"v":-20},{"s":1562,"e":1564,"v":-25},{"s":1570,"e":1573,"v":-56},{"s":1574,"e":1576,"v":-40},{"s":1578,"e":1580,"v":-45},{"s":1582,"e":1585,"v":-43},{"s":1586,"e":1588,"v":-38},{"s":1590,"e":1592,"v":32},{"s":1594,"e":1596,"v":22},{"s":1597,"e":1599,"v":-20},{"s":1600,"e":1602,"v":-30},{"s":1606,"e":1608,"v":-45},{"s":1612,"e":1615,"v":-57},{"s":1616,"e":1618,"v":-60},{"s":1620,"e":1622,"v":-70},{"s":1624,"e":1626,"v":-85},{"s":1628,"e":1630,"v":-95},{"s":1635,"e":1638,"v":-112},{"s":1640,"e":1642,"v":-60},{"s":1645,"e":1647,"v":-48},{"s":1655,"e":1658,"v":63},{"s":1659,"e":1661,"v":35},{"s":1662,"e":1664,"v":-10},{"s":1665,"e":1667,"v":30},{"s":1668,"e":1670,"v":-18},{"s":1671,"e":1673,"v":35},{"s":1675,"e":1677,"v":-22},{"s":1680,"e":1683,"v":45},{"s":1684,"e":1686,"v":35},{"s":1687,"e":1689,"v":-25},{"s":1690,"e":1692,"v":40},{"s":1694,"e":1696,"v":30},{"s":1697,"e":1699,"v":-22},{"s":1700,"e":1702,"v":38},{"s":1704,"e":1706,"v":-12},{"s":1707,"e":1709,"v":35},{"s":1710,"e":1713,"v":57},{"s":1713,"e":1715,"v":-18},{"s":1716,"e":1719,"v":57},{"s":1720,"e":1722,"v":-18},{"s":1724,"e":1727,"v":75},{"s":1728,"e":1730,"v":45},{"s":1731,"e":1734,"v":77},{"s":1745,"e":1748,"v":-75},{"s":1749,"e":1751,"v":-30},{"s":1752,"e":1754,"v":-48},{"s":1755,"e":1757,"v":-40},{"s":1758,"e":1760,"v":-55},{"s":1761,"e":1763,"v":-48},{"s":1764,"e":1766,"v":-35},{"s":1767,"e":1769,"v":32},{"s":1770,"e":1772,"v":48},{"s":1770,"e":1772,"v":-62},{"s":1773,"e":1775,"v":-30},{"s":1776,"e":1778,"v":-45},{"s":1780,"e":1782,"v":-55},{"s":1785,"e":1788,"v":-104},{"s":1789,"e":1791,"v":-60},{"s":1792,"e":1794,"v":-50},{"s":1795,"e":1797,"v":-55},{"s":1798,"e":1800,"v":-52}],
"b":[{"s":1,"e":3,"v":-60},{"s":3,"e":5,"v":30},{"s":5,"e":7,"v":-132},{"s":7,"e":9,"v":42},{"s":10,"e":12,"v":-40},{"s":12,"e":14,"v":36},{"s":15,"e":17,"v":48},{"s":18,"e":20,"v":-35},{"s":20,"e":22,"v":42},{"s":23,"e":25,"v":-54},{"s":25,"e":27,"v":40},{"s":28,"e":30,"v":45},{"s":30,"e":32,"v":-30},{"s":33,"e":35,"v":59},{"s":36,"e":38,"v":38},{"s":38,"e":40,"v":-28},{"s":40,"e":42,"v":46},{"s":43,"e":45,"v":-40},{"s":45,"e":47,"v":44},{"s":48,"e":50,"v":36},{"s":51,"e":53,"v":40},{"s":53,"e":55,"v":-25},{"s":56,"e":58,"v":-40},{"s":58,"e":60,"v":28},{"s":62,"e":64,"v":-30},{"s":65,"e":67,"v":-35},{"s":68,"e":70,"v":-45},{"s":71,"e":73,"v":-50},{"s":74,"e":76,"v":24},{"s":77,"e":79,"v":-45},{"s":80,"e":82,"v":-55},{"s":83,"e":85,"v":22},{"s":87,"e":89,"v":-70},{"s":90,"e":92,"v":-109},{"s":93,"e":95,"v":28},{"s":96,"e":98,"v":22},{"s":99,"e":101,"v":30},{"s":102,"e":104,"v":-35},{"s":105,"e":107,"v":26},{"s":108,"e":110,"v":20},{"s":113,"e":115,"v":-53},{"s":117,"e":119,"v":34},{"s":120,"e":122,"v":-30},{"s":123,"e":125,"v":25},{"s":126,"e":128,"v":-40},{"s":129,"e":131,"v":28},{"s":132,"e":134,"v":-45},{"s":135,"e":137,"v":25},{"s":138,"e":140,"v":-50},{"s":141,"e":143,"v":22},{"s":144,"e":146,"v":-42},{"s":147,"e":149,"v":30},{"s":150,"e":152,"v":-48},{"s":153,"e":155,"v":28},{"s":156,"e":158,"v":-40},{"s":159,"e":161,"v":30},{"s":162,"e":164,"v":-35},{"s":165,"e":167,"v":32},{"s":168,"e":170,"v":-45},{"s":173,"e":175,"v":-87},{"s":175,"e":177,"v":36},{"s":178,"e":180,"v":-40},{"s":181,"e":183,"v":38},{"s":184,"e":186,"v":-45},{"s":187,"e":189,"v":40},{"s":190,"e":192,"v":-35},{"s":193,"e":195,"v":44},{"s":195,"e":197,"v":-66},{"s":198,"e":200,"v":38},{"s":201,"e":203,"v":-40},{"s":204,"e":206,"v":42},{"s":207,"e":209,"v":35},{"s":212,"e":214,"v":-68},{"s":215,"e":217,"v":40},{"s":218,"e":220,"v":-45},{"s":221,"e":223,"v":42},{"s":224,"e":226,"v":-38},{"s":227,"e":229,"v":38},{"s":230,"e":232,"v":50},{"s":233,"e":235,"v":-30},{"s":236,"e":238,"v":42},{"s":239,"e":241,"v":35},{"s":242,"e":244,"v":-54},{"s":245,"e":247,"v":38},{"s":248,"e":250,"v":-30},{"s":250,"e":252,"v":36},{"s":253,"e":255,"v":43},{"s":256,"e":258,"v":-35},{"s":259,"e":261,"v":38},{"s":262,"e":264,"v":32},{"s":265,"e":267,"v":-28},{"s":268,"e":270,"v":30},{"s":271,"e":273,"v":-49},{"s":274,"e":276,"v":36},{"s":277,"e":279,"v":42},{"s":280,"e":282,"v":-30},{"s":283,"e":285,"v":40},{"s":286,"e":288,"v":57},{"s":289,"e":291,"v":-35},{"s":292,"e":294,"v":30},{"s":295,"e":297,"v":-42},{"s":298,"e":300,"v":35},{"s":301,"e":303,"v":-38},{"s":304,"e":306,"v":28},{"s":309,"e":311,"v":-58},{"s":312,"e":314,"v":28},{"s":315,"e":317,"v":-35},{"s":318,"e":320,"v":32},{"s":321,"e":323,"v":25},{"s":324,"e":326,"v":-28},{"s":327,"e":329,"v":35},{"s":330,"e":332,"v":-32},{"s":333,"e":335,"v":30},{"s":336,"e":338,"v":-59},{"s":339,"e":341,"v":28},{"s":342,"e":344,"v":36},{"s":345,"e":347,"v":-30},{"s":350,"e":352,"v":-35},{"s":352,"e":354,"v":30},{"s":355,"e":357,"v":36},{"s":358,"e":360,"v":-28},{"s":361,"e":363,"v":35},{"s":364,"e":366,"v":40},{"s":367,"e":369,"v":-30},{"s":370,"e":372,"v":38},{"s":375,"e":377,"v":45},{"s":378,"e":380,"v":-25},{"s":381,"e":383,"v":36},{"s":386,"e":388,"v":-35},{"s":389,"e":391,"v":-64},{"s":392,"e":394,"v":28},{"s":395,"e":397,"v":37},{"s":398,"e":400,"v":-30},{"s":401,"e":403,"v":30},{"s":404,"e":406,"v":-25},{"s":407,"e":409,"v":32},{"s":410,"e":412,"v":-30},{"s":415,"e":417,"v":-50},{"s":418,"e":420,"v":26},{"s":421,"e":423,"v":-22},{"s":425,"e":427,"v":31},{"s":428,"e":430,"v":-30},{"s":431,"e":433,"v":-50},{"s":434,"e":436,"v":30},{"s":438,"e":440,"v":-50},{"s":441,"e":443,"v":40},{"s":444,"e":446,"v":22},{"s":448,"e":450,"v":-35},{"s":452,"e":454,"v":57},{"s":456,"e":458,"v":-60},{"s":461,"e":463,"v":-60},{"s":464,"e":466,"v":38},{"s":468,"e":470,"v":-30},{"s":475,"e":478,"v":-112},{"s":481,"e":483,"v":70},{"s":484,"e":486,"v":48},{"s":488,"e":490,"v":50},{"s":493,"e":495,"v":68},{"s":496,"e":498,"v":45},{"s":499,"e":501,"v":-44},{"s":503,"e":505,"v":40},{"s":507,"e":509,"v":55},{"s":511,"e":513,"v":-25},{"s":515,"e":517,"v":42},{"s":518,"e":520,"v":51},{"s":525,"e":528,"v":-126},{"s":529,"e":531,"v":-80},{"s":533,"e":536,"v":-113},{"s":539,"e":541,"v":30},{"s":544,"e":546,"v":58},{"s":547,"e":549,"v":35},{"s":550,"e":552,"v":-30},{"s":553,"e":555,"v":30},{"s":556,"e":558,"v":-35},{"s":560,"e":562,"v":38},{"s":563,"e":565,"v":-28},{"s":565,"e":567,"v":54},{"s":566,"e":568,"v":-39},{"s":570,"e":572,"v":35},{"s":573,"e":575,"v":-30},{"s":577,"e":579,"v":31},{"s":581,"e":583,"v":40},{"s":585,"e":587,"v":35},{"s":589,"e":591,"v":45},{"s":593,"e":595,"v":-25},{"s":597,"e":599,"v":30},{"s":601,"e":603,"v":-38},{"s":605,"e":607,"v":28},{"s":609,"e":611,"v":-45},{"s":613,"e":615,"v":25},{"s":616,"e":618,"v":-50},{"s":620,"e":622,"v":38},{"s":624,"e":626,"v":-45},{"s":628,"e":630,"v":40},{"s":632,"e":634,"v":-35},{"s":636,"e":638,"v":44},{"s":640,"e":642,"v":30},{"s":644,"e":646,"v":-25},{"s":648,"e":650,"v":47},{"s":652,"e":654,"v":32},{"s":656,"e":658,"v":-50},{"s":660,"e":662,"v":-62},{"s":664,"e":666,"v":-78},{"s":668,"e":670,"v":56},{"s":670,"e":672,"v":-90},{"s":676,"e":679,"v":-105},{"s":682,"e":684,"v":48},{"s":685,"e":687,"v":59},{"s":689,"e":691,"v":40},{"s":693,"e":695,"v":35},{"s":697,"e":699,"v":-57},{"s":701,"e":703,"v":28},{"s":704,"e":706,"v":-40},{"s":708,"e":710,"v":30},{"s":711,"e":713,"v":-48},{"s":716,"e":718,"v":35},{"s":720,"e":723,"v":51},{"s":724,"e":726,"v":-30},{"s":728,"e":730,"v":38},{"s":732,"e":734,"v":42},{"s":736,"e":738,"v":30},{"s":742,"e":744,"v":-50},{"s":746,"e":748,"v":-60},{"s":750,"e":752,"v":-65},{"s":754,"e":756,"v":-45},{"s":758,"e":760,"v":-32},{"s":762,"e":764,"v":35},{"s":765,"e":768,"v":51},{"s":770,"e":772,"v":40},{"s":774,"e":776,"v":60},{"s":778,"e":780,"v":48},{"s":784,"e":787,"v":79},{"s":788,"e":790,"v":-50},{"s":792,"e":794,"v":-45},{"s":798,"e":800,"v":-57},{"s":802,"e":804,"v":-40},{"s":806,"e":809,"v":-97},{"s":810,"e":812,"v":-55},{"s":814,"e":816,"v":35},{"s":818,"e":820,"v":-45},{"s":822,"e":824,"v":22},{"s":826,"e":828,"v":-38},{"s":830,"e":832,"v":30},{"s":834,"e":836,"v":-55},{"s":838,"e":840,"v":46},{"s":841,"e":843,"v":-60},{"s":844,"e":847,"v":-103},{"s":848,"e":850,"v":32},{"s":852,"e":854,"v":-40},{"s":856,"e":858,"v":28},{"s":860,"e":862,"v":-30},{"s":864,"e":866,"v":39},{"s":868,"e":870,"v":30},{"s":872,"e":874,"v":-25},{"s":876,"e":878,"v":59},{"s":880,"e":882,"v":30},{"s":884,"e":886,"v":38},{"s":888,"e":890,"v":-45},{"s":892,"e":894,"v":40},{"s":896,"e":898,"v":36},{"s":900,"e":902,"v":-28},{"s":904,"e":906,"v":45},{"s":908,"e":910,"v":-60},{"s":911,"e":913,"v":-50},{"s":914,"e":916,"v":50},{"s":918,"e":920,"v":-40},{"s":922,"e":924,"v":60},{"s":924,"e":927,"v":-97},{"s":928,"e":930,"v":45},{"s":932,"e":935,"v":77},{"s":936,"e":938,"v":50},{"s":940,"e":942,"v":-30},{"s":944,"e":946,"v":55},{"s":948,"e":950,"v":45},{"s":952,"e":954,"v":-40},{"s":956,"e":958,"v":52},{"s":960,"e":962,"v":40},{"s":964,"e":966,"v":-50},{"s":968,"e":970,"v":48},{"s":973,"e":976,"v":-88},{"s":978,"e":980,"v":40},{"s":982,"e":984,"v":-45},{"s":986,"e":988,"v":55},{"s":990,"e":992,"v":-60},{"s":994,"e":996,"v":45},{"s":998,"e":1000,"v":40},{"s":1002,"e":1004,"v":-70},{"s":1005,"e":1008,"v":-115},{"s":1009,"e":1011,"v":30},{"s":1013,"e":1015,"v":-45},{"s":1017,"e":1019,"v":50},{"s":1021,"e":1023,"v":55},{"s":1025,"e":1027,"v":-40},{"s":1030,"e":1033,"v":-65},{"s":1034,"e":1036,"v":60},{"s":1040,"e":1043,"v":87},{"s":1044,"e":1046,"v":50},{"s":1048,"e":1050,"v":-35},{"s":1052,"e":1054,"v":-42},{"s":1056,"e":1058,"v":45},{"s":1060,"e":1062,"v":48},{"s":1064,"e":1066,"v":-30},{"s":1068,"e":1070,"v":42},{"s":1072,"e":1074,"v":38},{"s":1077,"e":1079,"v":55},{"s":1080,"e":1082,"v":-35},{"s":1084,"e":1086,"v":48},{"s":1088,"e":1090,"v":-45},{"s":1092,"e":1094,"v":35},{"s":1096,"e":1098,"v":-55},{"s":1100,"e":1102,"v":42},{"s":1104,"e":1106,"v":-60},{"s":1108,"e":1110,"v":-70},{"s":1112,"e":1114,"v":-80},{"s":1116,"e":1119,"v":-106},{"s":1120,"e":1122,"v":-85},{"s":1124,"e":1126,"v":40},{"s":1128,"e":1130,"v":-50},{"s":1132,"e":1134,"v":38},{"s":1136,"e":1138,"v":-60},{"s":1140,"e":1142,"v":32},{"s":1145,"e":1148,"v":-91},{"s":1150,"e":1153,"v":-67},{"s":1154,"e":1156,"v":45},{"s":1158,"e":1160,"v":55},{"s":1162,"e":1164,"v":42},{"s":1166,"e":1168,"v":60},{"s":1170,"e":1172,"v":45},{"s":1174,"e":1176,"v":50},{"s":1180,"e":1182,"v":51},{"s":1184,"e":1186,"v":35},{"s":1188,"e":1190,"v":-35},{"s":1192,"e":1194,"v":40},{"s":1196,"e":1198,"v":-50},{"s":1200,"e":1202,"v":35},{"s":1205,"e":1207,"v":-68},{"s":1208,"e":1210,"v":40},{"s":1212,"e":1214,"v":-45},{"s":1216,"e":1218,"v":45},{"s":1220,"e":1222,"v":-50},{"s":1224,"e":1226,"v":38},{"s":1228,"e":1230,"v":-40},{"s":1232,"e":1234,"v":40},{"s":1236,"e":1238,"v":-55},{"s":1240,"e":1242,"v":48},{"s":1244,"e":1246,"v":-35},{"s":1248,"e":1250,"v":42},{"s":1252,"e":1254,"v":-50},{"s":1256,"e":1258,"v":45},{"s":1260,"e":1262,"v":-42},{"s":1264,"e":1266,"v":38},{"s":1268,"e":1270,"v":-55},{"s":1272,"e":1274,"v":50},{"s":1276,"e":1278,"v":-45},{"s":1280,"e":1282,"v":40},{"s":1284,"e":1286,"v":-50},{"s":1288,"e":1290,"v":45},{"s":1292,"e":1294,"v":64},{"s":1296,"e":1298,"v":-35},{"s":1300,"e":1302,"v":40},{"s":1304,"e":1306,"v":-45},{"s":1308,"e":1310,"v":42},{"s":1312,"e":1314,"v":50},{"s":1315,"e":1317,"v":44},{"s":1316,"e":1318,"v":-50},{"s":1320,"e":1322,"v":-40},{"s":1324,"e":1326,"v":30},{"s":1328,"e":1330,"v":-55},{"s":1332,"e":1334,"v":28},{"s":1336,"e":1338,"v":-45},{"s":1340,"e":1342,"v":33},{"s":1344,"e":1346,"v":-60},{"s":1348,"e":1350,"v":-62},{"s":1352,"e":1354,"v":-80},{"s":1355,"e":1357,"v":28},{"s":1358,"e":1360,"v":35},{"s":1362,"e":1364,"v":-40},{"s":1368,"e":1370,"v":-30},{"s":1370,"e":1372,"v":25},{"s":1374,"e":1376,"v":35},{"s":1376,"e":1378,"v":-40},{"s":1380,"e":1382,"v":45},{"s":1383,"e":1385,"v":52},{"s":1388,"e":1391,"v":-123},{"s":1392,"e":1394,"v":45},{"s":1396,"e":1398,"v":-50},{"s":1400,"e":1402,"v":40},{"s":1402,"e":1404,"v":-34},{"s":1406,"e":1408,"v":-50},{"s":1410,"e":1412,"v":45},{"s":1414,"e":1416,"v":-40},{"s":1420,"e":1422,"v":59},{"s":1424,"e":1426,"v":45},{"s":1428,"e":1430,"v":-35},{"s":1432,"e":1434,"v":52},{"s":1436,"e":1438,"v":55},{"s":1440,"e":1442,"v":48},{"s":1444,"e":1446,"v":40},{"s":1448,"e":1450,"v":-45},{"s":1450,"e":1453,"v":-62},{"s":1450,"e":1452,"v":50},{"s":1454,"e":1456,"v":42},{"s":1458,"e":1460,"v":-30},{"s":1462,"e":1464,"v":35},{"s":1466,"e":1468,"v":-55},{"s":1470,"e":1472,"v":-60},{"s":1474,"e":1476,"v":-75},{"s":1478,"e":1481,"v":-126},{"s":1483,"e":1485,"v":35},{"s":1487,"e":1489,"v":42},{"s":1491,"e":1493,"v":-30},{"s":1495,"e":1497,"v":45},{"s":1499,"e":1501,"v":-35},{"s":1503,"e":1505,"v":40},{"s":1507,"e":1509,"v":48},{"s":1510,"e":1512,"v":-41},{"s":1514,"e":1516,"v":42},{"s":1518,"e":1520,"v":-30},{"s":1522,"e":1524,"v":38},{"s":1526,"e":1528,"v":50},{"s":1530,"e":1532,"v":-25},{"s":1534,"e":1536,"v":45},{"s":1538,"e":1540,"v":40},{"s":1542,"e":1544,"v":48},{"s":1546,"e":1548,"v":35},{"s":1550,"e":1552,"v":44},{"s":1555,"e":1557,"v":-65},{"s":1559,"e":1561,"v":-90},{"s":1562,"e":1565,"v":-141},{"s":1566,"e":1568,"v":-60},{"s":1570,"e":1572,"v":-40},{"s":1574,"e":1576,"v":45},{"s":1578,"e":1580,"v":63},{"s":1582,"e":1584,"v":50},{"s":1586,"e":1588,"v":55},{"s":1590,"e":1592,"v":48},{"s":1595,"e":1597,"v":65},{"s":1598,"e":1600,"v":40},{"s":1602,"e":1604,"v":-40},{"s":1606,"e":1608,"v":-55},{"s":1610,"e":1612,"v":-45},{"s":1614,"e":1616,"v":35},{"s":1618,"e":1620,"v":-65},{"s":1623,"e":1626,"v":-86},{"s":1628,"e":1630,"v":-60},{"s":1632,"e":1634,"v":-50},{"s":1636,"e":1638,"v":30},{"s":1640,"e":1642,"v":38},{"s":1644,"e":1646,"v":-30},{"s":1648,"e":1650,"v":49},{"s":1652,"e":1654,"v":40},{"s":1656,"e":1658,"v":-25},{"s":1660,"e":1662,"v":30},{"s":1664,"e":1666,"v":-40},{"s":1668,"e":1670,"v":-35},{"s":1672,"e":1674,"v":30},{"s":1676,"e":1678,"v":-30},{"s":1680,"e":1682,"v":35},{"s":1684,"e":1686,"v":-28},{"s":1688,"e":1690,"v":38},{"s":1692,"e":1694,"v":-45},{"s":1696,"e":1698,"v":32},{"s":1700,"e":1702,"v":-30},{"s":1706,"e":1708,"v":40},{"s":1709,"e":1711,"v":-50},{"s":1712,"e":1715,"v":-76},{"s":1716,"e":1718,"v":30},{"s":1720,"e":1722,"v":-35},{"s":1724,"e":1726,"v":32},{"s":1730,"e":1733,"v":-63},{"s":1734,"e":1736,"v":35},{"s":1738,"e":1740,"v":40},{"s":1743,"e":1745,"v":71},{"s":1746,"e":1748,"v":50},{"s":1749,"e":1751,"v":45},{"s":1752,"e":1754,"v":55},{"s":1755,"e":1757,"v":48},{"s":1758,"e":1760,"v":62},{"s":1760,"e":1762,"v":-35},{"s":1763,"e":1765,"v":50},{"s":1767,"e":1769,"v":45},{"s":1771,"e":1773,"v":52},{"s":1775,"e":1777,"v":40},{"s":1780,"e":1782,"v":46},{"s":1782,"e":1784,"v":-100},{"s":1786,"e":1788,"v":-70},{"s":1789,"e":1791,"v":-90},{"s":1793,"e":1795,"v":-60},{"s":1797,"e":1799,"v":-95},{"s":1801,"e":1803,"v":-50}],
"black":[{"s":130,"e":130,"v":-20},{"s":159,"e":159,"v":-42},{"s":358,"e":358,"v":-20},{"s":500,"e":500,"v":-8},{"s":817,"e":817,"v":8},{"s":872,"e":872,"v":-8},{"s":1320,"e":1320,"v":20},{"s":1308,"e":1308,"v":14},{"s":1432,"e":1432,"v":8},{"s":1544,"e":1544,"v":12},{"s":1745,"e":1745,"v":-25},{"s":1150,"e":1150,"v":-8}],
"ticks":[{"k":10},{"k":20},{"k":30},{"k":40},{"k":50},{"k":60},{"k":70},{"k":80},{"k":90},{"k":110},{"k":120},{"k":130},{"k":140},{"k":150},{"k":160},{"k":170},{"k":180},{"k":190},{"k":210},{"k":220},{"k":230},{"k":240},{"k":250},{"k":260},{"k":270},{"k":280},{"k":290},{"k":310},{"k":320},{"k":330},{"k":340},{"k":350},{"k":360},{"k":370},{"k":380},{"k":390},{"k":410},{"k":420},{"k":430},{"k":440},{"k":450},{"k":460},{"k":470},{"k":480},{"k":490},{"k":510},{"k":520},{"k":530},{"k":540},{"k":550},{"k":560},{"k":570},{"k":580},{"k":590},{"k":610},{"k":620},{"k":630},{"k":640},{"k":650},{"k":660},{"k":670},{"k":680},{"k":690},{"k":710},{"k":720},{"k":730},{"k":740},{"k":750},{"k":760},{"k":770},{"k":780},{"k":790},{"k":810},{"k":820},{"k":830},{"k":840},{"k":850},{"k":860},{"k":870},{"k":880},{"k":890},{"k":910},{"k":920},{"k":930},{"k":940},{"k":950},{"k":960},{"k":970},{"k":980},{"k":990},{"k":1010},{"k":1020},{"k":1030},{"k":1040},{"k":1050},{"k":1060},{"k":1070},{"k":1080},{"k":1090},{"k":1110},{"k":1120},{"k":1130},{"k":1140},{"k":1150},{"k":1160},{"k":1170},{"k":1180},{"k":1190},{"k":1210},{"k":1220},{"k":1230},{"k":1240},{"k":1250},{"k":1260},{"k":1270},{"k":1280},{"k":1290},{"k":1310},{"k":1320},{"k":1330},{"k":1340},{"k":1350},{"k":1360},{"k":1370},{"k":1380},{"k":1390},{"k":1410},{"k":1420},{"k":1430},{"k":1440},{"k":1450},{"k":1460},{"k":1470},{"k":1480},{"k":1490},{"k":1510},{"k":1520},{"k":1530},{"k":1540},{"k":1550},{"k":1560},{"k":1570},{"k":1580},{"k":1590},{"k":1610},{"k":1620},{"k":1630},{"k":1640},{"k":1650},{"k":1660},{"k":1670},{"k":1680},{"k":1690},{"k":1710},{"k":1720},{"k":1730},{"k":1740},{"k":1750},{"k":1760},{"k":1770},{"k":1780},{"k":1790}],
"labR":[{"k":100,"t":"100 kb"},{"k":200,"t":"200 kb"},{"k":300,"t":"300 kb"},{"k":400,"t":"400 kb"},{"k":500,"t":"500 kb"},{"k":600,"t":"600 kb"},{"k":700,"t":"700 kb"},{"k":800,"t":"800 kb"},{"k":900,"t":"900 kb"}],
"labL":[{"k":1000,"t":"1000 kb"},{"k":1100,"t":"1100 kb"},{"k":1200,"t":"1200 kb"},{"k":1300,"t":"1300 kb"},{"k":1400,"t":"1400 kb"},{"k":1500,"t":"1500 kb"},{"k":1600,"t":"1600 kb"},{"k":1700,"t":"1700 kb"},{"k":1800,"t":"1800 kb"}]
},
"resolve":{"scale":{"radius":"independent","angle":"independent"}},
"layer":[
{"data":{"name":"outer"},"mark":{"type":"arc","stroke":"#000","strokeWidth":1},"encoding":{"theta":{"field":"s","type":"quantitative","scale":{"domain":[0,1804],"range":[0,6.283185]}},"theta2":{"field":"e"},"radius":{"value":975},"radius2":{"value":927},"fill":{"field":"c","type":"nominal","legend":null,"scale":{"domain":["l","m","d","k","b","n","g","r"],"range":["#efefef","#b9b9b9","#606060","#000000","#0a3f80","#0868ac","#a6a6a6","#fb6a4a"]}}}},
{"data":{"name":"stripes"},"mark":{"type":"arc"},"encoding":{"theta":{"field":"s","type":"quantitative"},"theta2":{"field":"e"},"radius":{"value":975},"radius2":{"value":927},"fill":{"field":"c","type":"nominal","legend":null}}},
{"data":{"name":"geneO"},"mark":{"type":"arc"},"encoding":{"theta":{"field":"s","type":"quantitative"},"theta2":{"field":"e"},"radius":{"value":908},"radius2":{"value":890},"fill":{"field":"c","type":"nominal","legend":null}}},
{"data":{"name":"geneI"},"mark":{"type":"arc"},"encoding":{"theta":{"field":"s","type":"quantitative"},"theta2":{"field":"e"},"radius":{"value":890},"radius2":{"value":871},"fill":{"field":"c","type":"nominal","legend":null}}},
{"data":{"name":"blue"},"mark":{"type":"arc"},"encoding":{"theta":{"field":"s","type":"quantitative"},"theta2":{"field":"e"},"radius":{"value":853},"radius2":{"value":815},"fill":{"field":"c","type":"nominal","legend":null}}},
{"data":{"name":"bandA"},"mark":{"type":"arc"},"encoding":{"theta":{"field":"s","type":"quantitative"},"theta2":{"field":"e"},"radius":{"field":"v","type":"quantitative","scale":{"domain":[-120,120],"range":[550,790],"zero":false}},"radius2":{"datum":0},"fill":{"condition":{"test":"datum.v<0","value":"#fc9272"},"value":"#9ecae1"}}},
{"data":{"name":"a"},"mark":{"type":"arc","strokeWidth":1},"encoding":{"theta":{"field":"s","type":"quantitative"},"theta2":{"field":"e"},"radius":{"field":"v","type":"quantitative","scale":{"domain":[-120,120],"range":[610,730],"zero":false}},"radius2":{"datum":0},"fill":{"condition":{"test":"datum.v<0","value":"#fc9272"},"value":"#9ecae1"},"stroke":{"condition":{"test":"datum.v<0","value":"#fb6a4a"},"value":"#6baed6"}}},
{"data":{"name":"a"},"mark":{"type":"arc","strokeWidth":1.6},"encoding":{"theta":{"field":"s","type":"quantitative"},"theta2":{"field":"s"},"radius":{"field":"v","type":"quantitative","scale":{"domain":[-120,120],"range":[550,790],"zero":false}},"radius2":{"datum":0},"stroke":{"condition":{"test":"datum.v<0","value":"#fb6a4a"},"value":"#6baed6"}}},
{"data":{"name":"black"},"mark":{"type":"arc","strokeWidth":2,"stroke":"#000"},"encoding":{"theta":{"field":"s","type":"quantitative"},"theta2":{"field":"e"},"radius":{"field":"v","type":"quantitative","scale":{"domain":[-120,120],"range":[550,790],"zero":false}},"radius2":{"datum":-10}}},
{"data":{"name":"bandB"},"mark":{"type":"arc"},"encoding":{"theta":{"field":"s","type":"quantitative"},"theta2":{"field":"e"},"radius":{"field":"v","type":"quantitative","scale":{"domain":[-120,120],"range":[345,585],"zero":false}},"radius2":{"datum":0},"fill":{"condition":{"test":"datum.v<0","value":"#a1d99b"},"value":"#9ecae1"}}},
{"data":{"name":"b"},"mark":{"type":"arc","strokeWidth":1},"encoding":{"theta":{"field":"s","type":"quantitative"},"theta2":{"field":"e"},"radius":{"field":"v","type":"quantitative","scale":{"domain":[-120,120],"range":[405,525],"zero":false}},"radius2":{"datum":0},"fill":{"condition":{"test":"datum.v<0","value":"#a1d99b"},"value":"#9ecae1"},"stroke":{"condition":{"test":"datum.v<0","value":"#74c476"},"value":"#6baed6"}}},
{"data":{"name":"b"},"mark":{"type":"arc","strokeWidth":1.6},"encoding":{"theta":{"field":"s","type":"quantitative"},"theta2":{"field":"s"},"radius":{"field":"v","type":"quantitative","scale":{"domain":[-120,120],"range":[345,585],"zero":false}},"radius2":{"datum":0},"stroke":{"condition":{"test":"datum.v<0","value":"#74c476"},"value":"#6baed6"}}},
{"data":{"name":"ticks"},"mark":{"type":"arc","stroke":"#000","strokeWidth":1.5},"encoding":{"theta":{"field":"k","type":"quantitative"},"theta2":{"field":"k"},"radius":{"value":981},"radius2":{"value":975}}},
{"data":{"name":"labR"},"mark":{"type":"arc","stroke":"#000","strokeWidth":1.5},"encoding":{"theta":{"field":"k","type":"quantitative"},"theta2":{"field":"k"},"radius":{"value":990},"radius2":{"value":975}}},
{"data":{"name":"labL"},"mark":{"type":"arc","stroke":"#000","strokeWidth":1.5},"encoding":{"theta":{"field":"k","type":"quantitative"},"theta2":{"field":"k"},"radius":{"value":990},"radius2":{"value":975}}},
{"data":{"name":"labR"},"mark":{"type":"text","align":"left","baseline":"middle","fontSize":44,"font":"Lato","color":"#000"},"encoding":{"theta":{"field":"k","type":"quantitative"},"radius":{"value":1002},"text":{"field":"t"},"angle":{"field":"k","type":"quantitative","scale":{"domain":[0,1804],"range":[-90,270]}}}},
{"data":{"name":"labL"},"mark":{"type":"text","align":"right","baseline":"middle","fontSize":44,"font":"Lato","color":"#000"},"encoding":{"theta":{"field":"k","type":"quantitative"},"radius":{"value":1002},"text":{"field":"t"},"angle":{"field":"k","type":"quantitative","scale":{"domain":[0,1804],"range":[-270,90]}}}}
]}
